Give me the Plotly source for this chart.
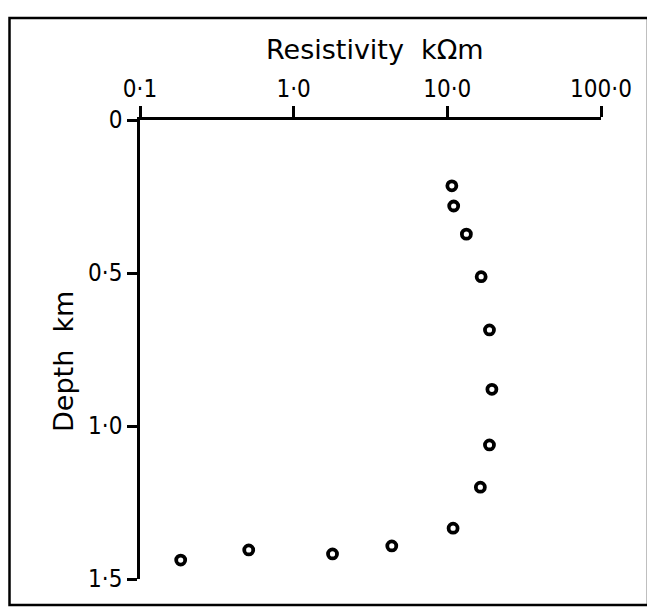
import plotly.graph_objects as go

# Data
resistivity_kohm_m = [10.7, 11.0, 13.3, 16.6, 18.8, 19.5, 18.8, 16.4, 10.9, 4.35, 1.79, 0.51, 0.184]
depth_km = [0.215, 0.281, 0.373, 0.512, 0.686, 0.880, 1.062, 1.200, 1.334, 1.392, 1.418, 1.405, 1.438]

x_tick_vals = [0.1, 1.0, 10.0, 100.0]
x_tick_text = ["0·1", "1·0", "10·0", "100·0"]
y_tick_vals = [0, 0.5, 1.0, 1.5]
y_tick_text = ["0", "0·5", "1·0", "1·5"]

TICK_FONT = "Liberation Sans Narrow, DejaVu Sans Condensed, sans-serif"
TITLE_FONT = "DejaVu Sans, sans-serif"

# the page body adds an 8 px margin; positions below are screen pixels
OFF = 8
W, H = 655 - OFF, 609 - OFF
L = 140 - OFF
T = 120 - OFF
R = W - (601 - OFF)
B = H - (579 - OFF)
pw, ph = W - L - R, H - T - B

def px(x):
    return (x - OFF - L) / pw

def py(y):
    return (H - B - (y - OFF)) / ph

fig = go.Figure()
fig.add_trace(go.Scatter(
    x=resistivity_kohm_m, y=depth_km, mode="markers",
    marker=dict(symbol="circle-open", size=9, color="black",
                line=dict(width=3.8, color="black")),
    showlegend=False, cliponaxis=False,
))

fig.update_layout(
    width=W, height=H,
    margin=dict(l=L, r=R, t=T, b=B),
    paper_bgcolor="white", plot_bgcolor="white",
    font=dict(family=TICK_FONT, size=24, color="black"),
    xaxis=dict(
        type="log", range=[-1, 2], side="top",
        tickvals=x_tick_vals, ticktext=x_tick_text,
        showline=True, linecolor="black", linewidth=2.5,
        ticks="outside", ticklen=11, tickwidth=2.5, tickcolor="black",
        showgrid=False, zeroline=False, mirror=False,
        tickfont=dict(family=TICK_FONT, size=24),
    ),
    yaxis=dict(
        range=[1.5, 0],
        tickvals=y_tick_vals, ticktext=y_tick_text,
        showline=True, linecolor="black", linewidth=2.5,
        ticks="outside", ticklen=10, tickwidth=2.5, tickcolor="black",
        showgrid=False, zeroline=False, mirror=False,
        tickfont=dict(family=TICK_FONT, size=24),
    ),
    shapes=[dict(
        type="rect", xref="paper", yref="paper",
        x0=px(9.5), x1=px(648), y0=py(605), y1=py(18),
        line=dict(color="black", width=2.5), fillcolor="rgba(0,0,0,0)",
        layer="below",
    )],
    annotations=[
        dict(text="Resistivity  kΩm", xref="paper", yref="paper",
             x=px(375), y=py(49), showarrow=False,
             font=dict(family=TITLE_FONT, size=27), xanchor="center", yanchor="middle"),
        dict(text="Depth  km", xref="paper", yref="paper",
             x=px(63), y=py(362), showarrow=False, textangle=-90,
             font=dict(family=TITLE_FONT, size=27), xanchor="center", yanchor="middle"),
    ],
)

fig.write_html("out.html")
